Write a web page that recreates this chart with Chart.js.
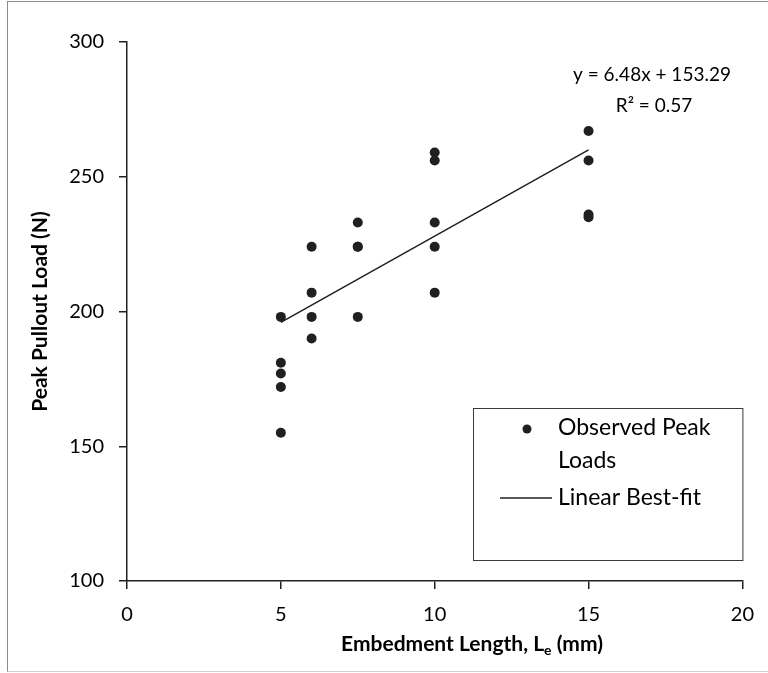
<!DOCTYPE html>
<html>
<head>
<meta charset="utf-8">
<script src="https://cdn.jsdelivr.net/npm/chart.js@4/dist/chart.umd.min.js"></script>
<style>
  html, body { margin: 0; padding: 0; background: #fff; }
  #wrap { position: relative; width: 768px; height: 673px; }
  #frame { position: absolute; left: 7px; top: 1px; width: 770px; height: 671px; border: 1px solid #8c8c8c; border-bottom-color: #d0d0d0; box-sizing: border-box; pointer-events: none; }
</style>
</head>
<body>
<div id="wrap">
  <canvas id="chart" width="768" height="673"></canvas>
  <div id="frame"></div>
</div>
<script>
// observed peaks
var embedLength = [5, 5, 5, 5, 5, 6, 6, 6, 6, 7.5, 7.5, 7.5, 7.5, 10, 10, 10, 10, 10, 15, 15, 15, 15];
var peakLoad = [198, 181, 177, 172, 155, 224, 207, 198, 190, 233, 224, 224, 198, 259, 256, 233, 224, 207, 267, 256, 236, 235];

// trendline ends as drawn
var fitLength = [5, 15];
var fitLoad = [196, 260];

var xTicks = [0, 5, 10, 15, 20];
var yTicks = [100, 150, 200, 250, 300];

var seriesNames = [['Observed Peak', 'Loads'], 'Linear Best-fit'];
var fitEquation = 'y = 6.48x + 153.29';
var fitR2 = 'R² = 0.57';
var xTitleParts = ['Embedment Length, L', 'e', ' (mm)'];
var yTitle = 'Peak Pullout Load (N)';

var ink = '#231f20';
var family = 'Lato, "Open Sans", sans-serif';

function toPoints(xs, ys) {
    return xs.map(function (x, i) { return { x: x, y: ys[i] }; });
}

// axis titles, legend box and the trendline label
var extras = {
    id: 'extras',
    afterDraw: function (chart) {
        var ctx = chart.ctx;
        var area = chart.chartArea;
        var ds = chart.data.datasets;
        ctx.save();
        ctx.fillStyle = '#000';
        ctx.textBaseline = 'middle';

        // trendline label
        ctx.font = '19px ' + family;
        ctx.textAlign = 'center';
        ctx.fillText(fitEquation, 652, 75);
        ctx.fillText(fitR2, 654, 106);

        // y title
        ctx.font = 'bold 21px ' + family;
        ctx.save();
        ctx.translate(40, (area.top + area.bottom) / 2);
        ctx.rotate(-Math.PI / 2);
        ctx.fillText(yTitle, 0, 0);
        ctx.restore();

        // x title with subscript
        ctx.textAlign = 'left';
        ctx.textBaseline = 'alphabetic';
        var big = 'bold 21px ' + family, small = 'bold 14px ' + family;
        ctx.font = big;
        var w1 = ctx.measureText(xTitleParts[0]).width;
        var w3 = ctx.measureText(xTitleParts[2]).width;
        ctx.font = small;
        var w2 = ctx.measureText(xTitleParts[1]).width;
        var x0 = 472 - (w1 + w2 + w3) / 2, base = 651;
        ctx.font = big;
        ctx.fillText(xTitleParts[0], x0, base);
        ctx.font = small;
        ctx.fillText(xTitleParts[1], x0 + w1, base + 4);
        ctx.font = big;
        ctx.fillText(xTitleParts[2], x0 + w1 + w2, base);

        // legend
        var bx = 473, by = 408, bw = area.right - bx, bh = 152;
        ctx.strokeStyle = '#3a3a3a';
        ctx.lineWidth = 1;
        ctx.strokeRect(bx + 0.5, by + 0.5, bw, bh);

        ctx.fillStyle = ds[0].backgroundColor;
        ctx.beginPath();
        ctx.arc(527, 429, 4.5, 0, Math.PI * 2);
        ctx.fill();

        ctx.strokeStyle = ds[1].borderColor;
        ctx.lineWidth = ds[1].borderWidth;
        ctx.beginPath();
        ctx.moveTo(500, 498);
        ctx.lineTo(552, 498);
        ctx.stroke();

        ctx.fillStyle = '#000';
        ctx.font = '23px ' + family;
        ctx.textBaseline = 'middle';
        ctx.fillText(seriesNames[0][0], 558, 428);
        ctx.fillText(seriesNames[0][1], 558, 461);
        ctx.fillText(seriesNames[1], 558, 498);
        ctx.restore();
    }
};

var axisLook = {
    grid: { drawOnChartArea: false, drawTicks: true, tickLength: 8, color: ink, lineWidth: 1.5 },
    border: { display: true, color: ink, width: 1.5 }
};

var chart = new Chart(document.getElementById('chart').getContext('2d'), {
    type: 'scatter',
    data: {
        datasets: [{
            label: 'Observed Peak Loads',
            data: toPoints(embedLength, peakLoad),
            backgroundColor: ink,
            borderColor: ink,
            pointRadius: 5,
            pointBorderWidth: 0,
            showLine: false
        }, {
            label: 'Linear Best-fit',
            data: toPoints(fitLength, fitLoad),
            borderColor: ink,
            backgroundColor: ink,
            borderWidth: 1.5,
            pointRadius: 0,
            showLine: true,
            fill: false
        }]
    },
    options: {
        responsive: false,
        animation: false,
        devicePixelRatio: 1,
        layout: { padding: { left: 0, top: 42, right: 23, bottom: 0 } },
        plugins: { legend: { display: false }, tooltip: { enabled: false } },
        scales: {
            x: Object.assign({
                type: 'linear', min: 0, max: 20,
                afterBuildTicks: function (s) { s.ticks = xTicks.map(function (v) { return { value: v }; }); },
                afterFit: function (s) { s.height = 92; },
                ticks: { color: '#000', font: { family: family, size: 20 }, padding: 14, maxRotation: 0 }
            }, axisLook),
            y: Object.assign({
                type: 'linear', min: 100, max: 300,
                afterBuildTicks: function (s) { s.ticks = yTicks.map(function (v) { return { value: v }; }); },
                afterFit: function (s) { s.width = 127; },
                ticks: { color: '#000', font: { family: family, size: 20 }, padding: 15 }
            }, axisLook)
        }
    },
    plugins: [extras]
});
</script>
</body>
</html>
